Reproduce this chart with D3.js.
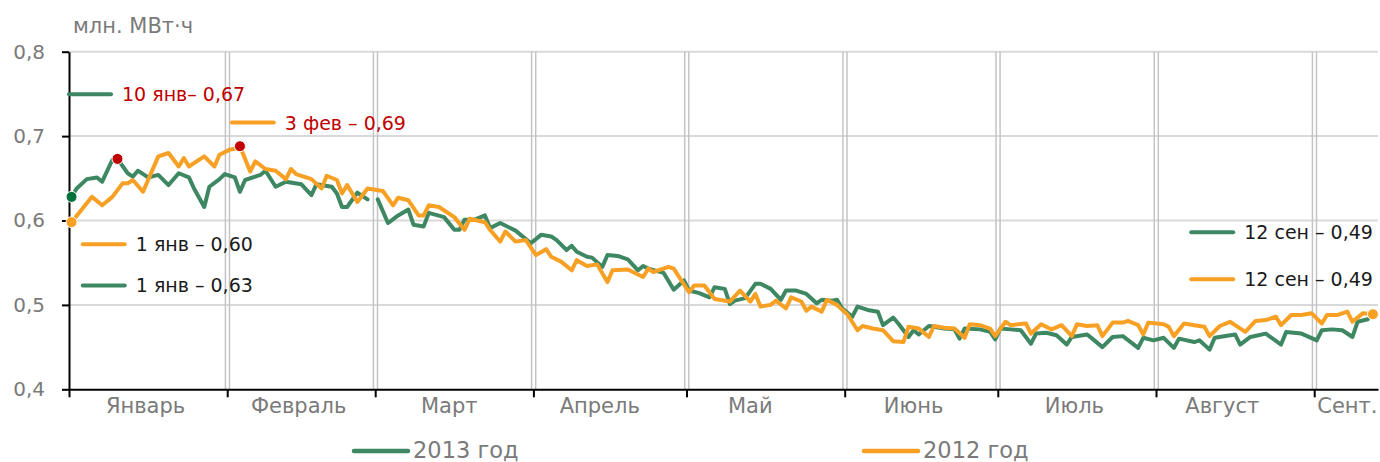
<!DOCTYPE HTML>
<html>
  <head>
    <title>
    Потребление электроэнергии, 2013 / 2012
    </title>
    <style>
      body {
        margin: 0;
        background: #fff;
      }

      svg {
        display: block;
      }

      text {
        font-family: 'DejaVu Sans', Verdana, sans-serif;
      }

      .hgrid {
        stroke: #d9d9d9;
        stroke-width: 2px;
      }

      .vgrid {
        stroke: #c4c4c4;
        stroke-width: 1.5px;
      }

      .axis path, .axis line {
        stroke: #000;
        stroke-width: 2px;
      }

      .axis text, .monthLabel, .unitText, .legendText {
        fill: #7a7a7a;
      }

      .series {
        fill: none;
        stroke-width: 4px;
        stroke-linejoin: round;
        stroke-linecap: round;
      }

      .noteText {
        font-size: 19px;
      }
    </style>
  </head>
  <body>
    <svg width="1380" height="462">
    </svg>
    <script src="https://d3js.org/d3.v7.min.js"></script>
    <script>
      var green = '#3e8763';
      var orange = '#f7a024';
      var red = '#c00000';

      // day index on the 2012 calendar (0 = 1 Jan), 2013 has no 29 Feb
      var months = [
        { name: 'Январь', days: 31, label: 15 },
        { name: 'Февраль', days: 29, label: 14 },
        { name: 'Март', days: 31, label: 14.5 },
        { name: 'Апрель', days: 30, label: 13 },
        { name: 'Май', days: 31, label: 12.5 },
        { name: 'Июнь', days: 30, label: 13.5 },
        { name: 'Июль', days: 31, label: 15 },
        { name: 'Август', days: 31, label: 13 },
        { name: 'Сент.', days: 12, label: 6.5 }
      ];

      var data2013 = [
        [0,0.628],[1,0.638],[3,0.649],[5,0.651],[6,0.646],[8,0.672],[9,0.673],[11,0.656],[12,0.652],[13,0.659],
        [15,0.651],[17,0.654],[19,0.642],[21,0.656],[23,0.651],[24,0.638],[26,0.616],[27,0.640],[29,0.649],[30,0.655],
        [32,0.651],[33,0.634],[34,0.648],[36,0.652],[37,0.654],[38,0.659],[40,0.640],[42,0.646],[45,0.643],[47,0.630],
        [48,0.643],[51,0.640],[52,0.632],[53,0.616],[54,0.616],[56,0.633],[58,0.625],[59,null],[60,0.625],[62,0.597],
        [64,0.606],[66,0.613],[67,0.595],[69,0.593],[70,0.609],[73,0.604],[75,0.589],[76,0.589],[77,0.601],[79,0.601],
        [81,0.606],[82,0.591],[84,0.597],[87,0.588],[90,0.573],[92,0.583],[94,0.581],[95,0.577],[97,0.565],[98,0.570],
        [99,0.563],[101,0.557],[102,0.556],[104,0.545],[105,0.559],[107,0.558],[109,0.554],[111,0.541],[112,0.546],[113,0.543],
        [116,0.538],[118,0.518],[120,0.529],[121,0.517],[123,0.514],[125,0.509],[126,0.521],[128,0.519],[129,0.501],[130,0.505],
        [132,0.508],[134,0.525],[135,0.525],[137,0.519],[139,0.506],[140,0.517],[142,0.517],[144,0.513],[146,0.502],[147,0.506],
        [149,0.505],[150,0.506],[151,0.496],[153,0.486],[154,0.498],[156,0.494],[158,0.492],[159,0.476],[161,0.485],[162,0.478],
        [164,0.462],[165,0.470],[166,0.465],[168,0.475],[169,0.474],[171,0.472],[173,0.471],[174,0.460],[175,0.472],[178,0.471],
        [180,0.468],[181,0.459],[182,0.472],[184,0.471],[186,0.470],[188,0.454],[189,0.466],[191,0.467],[193,0.464],[195,0.453],
        [196,0.462],[199,0.465],[200,0.460],[202,0.450],[204,0.462],[206,0.463],[209,0.449],[210,0.461],[212,0.458],[214,0.461],
        [216,0.449],[217,0.460],[220,0.456],[221,0.458],[223,0.447],[224,0.461],[228,0.465],[229,0.453],[231,0.462],[234,0.466],
        [237,0.453],[238,0.468],[241,0.466],[244,0.458],[245,0.470],[247,0.471],[249,0.470],[251,0.462],[252,0.480],[254,0.483]
      ];

      var data2012 = [
        [0,0.598],[4,0.628],[6,0.618],[8,0.628],[10,0.644],[11,0.644],[12,0.648],[14,0.634],[17,0.676],[19,0.680],
        [21,0.664],[22,0.674],[23,0.664],[26,0.676],[28,0.664],[29,0.678],[31,0.684],[32,0.685],[33,0.688],[35,0.658],
        [36,0.670],[38,0.661],[40,0.659],[42,0.649],[43,0.661],[44,0.655],[47,0.649],[49,0.638],[50,0.653],[52,0.648],
        [53,0.632],[54,0.642],[56,0.622],[58,0.638],[61,0.635],[63,0.618],[64,0.627],[66,0.624],[68,0.606],[69,0.606],
        [70,0.618],[72,0.616],[75,0.604],[77,0.589],[78,0.602],[81,0.598],[82,0.589],[84,0.575],[85,0.587],[87,0.575],
        [89,0.577],[91,0.559],[93,0.566],[94,0.557],[96,0.551],[98,0.541],[99,0.553],[101,0.546],[103,0.548],[105,0.527],
        [106,0.541],[109,0.542],[112,0.533],[113,0.543],[114,0.539],[117,0.545],[118,0.543],[121,0.515],[122,0.523],[124,0.523],
        [126,0.507],[129,0.504],[131,0.517],[133,0.504],[134,0.513],[135,0.498],[137,0.500],[138,0.505],[140,0.496],[141,0.509],
        [143,0.504],[144,0.493],[145,0.498],[147,0.492],[148,0.506],[150,0.500],[152,0.489],[154,0.470],[155,0.475],[157,0.472],
        [159,0.470],[161,0.457],[163,0.456],[164,0.474],[166,0.472],[168,0.462],[169,0.475],[171,0.473],[173,0.472],[175,0.461],
        [176,0.477],[178,0.476],[180,0.472],[181,0.463],[183,0.480],[184,0.476],[187,0.478],[188,0.466],[190,0.477],[192,0.471],
        [194,0.476],[196,0.463],[197,0.477],[199,0.475],[201,0.476],[202,0.463],[204,0.479],[206,0.479],[207,0.481],[209,0.476],
        [210,0.465],[211,0.479],[214,0.477],[215,0.474],[216,0.463],[218,0.478],[220,0.476],[222,0.474],[223,0.463],[225,0.475],
        [227,0.480],[228,0.476],[230,0.468],[232,0.481],[234,0.482],[236,0.486],[237,0.476],[239,0.488],[241,0.488],[243,0.490],
        [245,0.478],[246,0.488],[248,0.488],[250,0.492],[251,0.480],[253,0.490],[255,0.489]
      ];

      // highlighted days: [ series, day, colour ]
      var markers = [
        [ data2013, 0, '#00703c' ],
        [ data2012, 0, orange ],
        [ data2013, 9, red ],
        [ data2012, 33, red ],
        [ data2012, 255, orange ]
      ];

      var notes = [
        { color: green, text: '10 янв– 0,67', textColor: red, day: 0, value: 0.7495 },
        { color: orange, text: '3 фев – 0,69', textColor: red, day: 31.9, value: 0.716 },
        { color: orange, text: '1 янв – 0,60', textColor: '#1a1a1a', day: 2.7, value: 0.572 },
        { color: green, text: '1 янв – 0,63', textColor: '#1a1a1a', day: 2.7, value: 0.523 },
        { color: green, text: '12 сен – 0,49', textColor: '#1a1a1a', day: 219.9, value: 0.586 },
        { color: orange, text: '12 сен – 0,49', textColor: '#1a1a1a', day: 219.9, value: 0.5303 }
      ];

      var legend = [
        { label: '2013 год', color: green, x: 354 },
        { label: '2012 год', color: orange, x: 864 }
      ];

      var svg = d3.select( 'svg' );
      var plotLeft = 69, plotRight = 1378, plotTop = 51.7, plotBottom = 389.3;
      var swatch = 42;

      var xScale = d3.scaleLinear().domain( [ 0, 256.5 ] ).range( [ plotLeft, plotRight ] );
      var yScale = d3.scaleLinear().domain( [ 0.4, 0.8 ] ).range( [ plotBottom, plotTop ] );

      var monthStarts = [];
      var acc = 0;
      months.forEach( function( m ) {
        m.start = acc;
        monthStarts.push( acc );
        acc += m.days;
      } );

      // horizontal grid
      svg.append( 'g' )
        .selectAll( 'line' )
        .data( [ 0.5, 0.6, 0.7, 0.8 ] )
        .join( 'line' )
          .classed( 'hgrid', true )
          .attr( 'x1', plotLeft )
          .attr( 'x2', plotRight )
          .attr( 'y1', function( d ) { return yScale( d ); } )
          .attr( 'y2', function( d ) { return yScale( d ); } );

      // vertical grid: a pair of thin lines at every month boundary
      var vg = [];
      monthStarts.slice( 1 ).forEach( function( d ) { vg.push( d - 0.35, d + 0.45 ); } );
      svg.append( 'g' )
        .selectAll( 'line' )
        .data( vg )
        .join( 'line' )
          .classed( 'vgrid', true )
          .attr( 'x1', function( d ) { return xScale( d ); } )
          .attr( 'x2', function( d ) { return xScale( d ); } )
          .attr( 'y1', plotTop )
          .attr( 'y2', plotBottom );

      // axes
      svg.append( 'g' )
        .classed( 'axis', true )
        .attr( 'transform', 'translate( ' + plotLeft + ', 0 )' )
        .call( d3.axisLeft( yScale )
          .tickValues( [ 0.4, 0.5, 0.6, 0.7, 0.8 ] )
          .tickSize( 7 )
          .tickSizeOuter( 0 )
          .tickPadding( 17 )
          .tickFormat( function( d ) { return d.toFixed( 1 ).replace( '.', ',' ); } ) )
        .selectAll( 'text' )
          .style( 'font-size', '20px' )
          .style( 'font-family', "'DejaVu Sans', Verdana, sans-serif" );

      svg.append( 'g' )
        .classed( 'axis', true )
        .attr( 'transform', 'translate( 0, ' + plotBottom + ' )' )
        .call( d3.axisBottom( xScale )
          .tickValues( monthStarts )
          .tickSize( 8 )
          .tickSizeOuter( 0 )
          .tickFormat( '' ) );

      svg.append( 'g' )
        .selectAll( 'text' )
        .data( months )
        .join( 'text' )
          .classed( 'monthLabel', true )
          .attr( 'x', function( m ) { return xScale( m.start + m.label ); } )
          .attr( 'y', 413 )
          .attr( 'text-anchor', 'middle' )
          .style( 'font-size', '21px' )
          .text( function( m ) { return m.name; } );

      svg.append( 'text' )
        .classed( 'unitText', true )
        .attr( 'x', 73 )
        .attr( 'y', 33 )
        .style( 'font-size', '21px' )
        .text( 'млн. МВт·ч' );

      // series
      var lineFunction = d3.line()
        .defined( function( d ) { return d[1] !== null; } )
        .x( function( d ) { return xScale( d[0] + 0.5 ); } )
        .y( function( d ) { return yScale( d[1] ); } );

      svg.append( 'path' )
        .classed( 'series', true )
        .attr( 'stroke', green )
        .attr( 'd', lineFunction( data2013 ) );

      svg.append( 'path' )
        .classed( 'series', true )
        .attr( 'stroke', orange )
        .attr( 'd', lineFunction( data2012 ) );

      svg.append( 'g' )
        .selectAll( 'circle' )
        .data( markers )
        .join( 'circle' )
          .attr( 'r', 5.5 )
          .attr( 'cx', function( m ) { return xScale( m[1] + 0.5 ); } )
          .attr( 'cy', function( m ) {
            var p = m[0].find( function( d ) { return d[0] === m[1]; } );
            return yScale( p[1] );
          } )
          .attr( 'fill', function( m ) { return m[2]; } )
          .attr( 'stroke', '#fff' )
          .attr( 'stroke-width', 1 );

      // notes
      var note = svg.append( 'g' )
        .selectAll( 'g' )
        .data( notes )
        .join( 'g' )
          .attr( 'transform', function( n ) { return 'translate( ' + xScale( n.day ) + ', ' + yScale( n.value ) + ' )'; } );
      note.append( 'line' )
        .attr( 'x1', 0 )
        .attr( 'x2', swatch )
        .attr( 'stroke', function( n ) { return n.color; } )
        .attr( 'stroke-width', 4 )
        .attr( 'stroke-linecap', 'round' );
      note.append( 'text' )
        .classed( 'noteText', true )
        .attr( 'x', swatch + 11 )
        .attr( 'y', 7 )
        .attr( 'fill', function( n ) { return n.textColor; } )
        .text( function( n ) { return n.text; } );

      // legend
      var item = svg.append( 'g' )
        .selectAll( 'g' )
        .data( legend )
        .join( 'g' )
          .attr( 'transform', function( l ) { return 'translate( ' + l.x + ', 451 )'; } );
      item.append( 'line' )
        .attr( 'x1', 0 )
        .attr( 'x2', 54 )
        .attr( 'stroke', function( l ) { return l.color; } )
        .attr( 'stroke-width', 4.5 )
        .attr( 'stroke-linecap', 'round' );
      item.append( 'text' )
        .classed( 'legendText', true )
        .attr( 'x', 59 )
        .attr( 'y', 7 )
        .style( 'font-size', '22.5px' )
        .text( function( l ) { return l.label; } );
    </script>
  </body>
</html>
